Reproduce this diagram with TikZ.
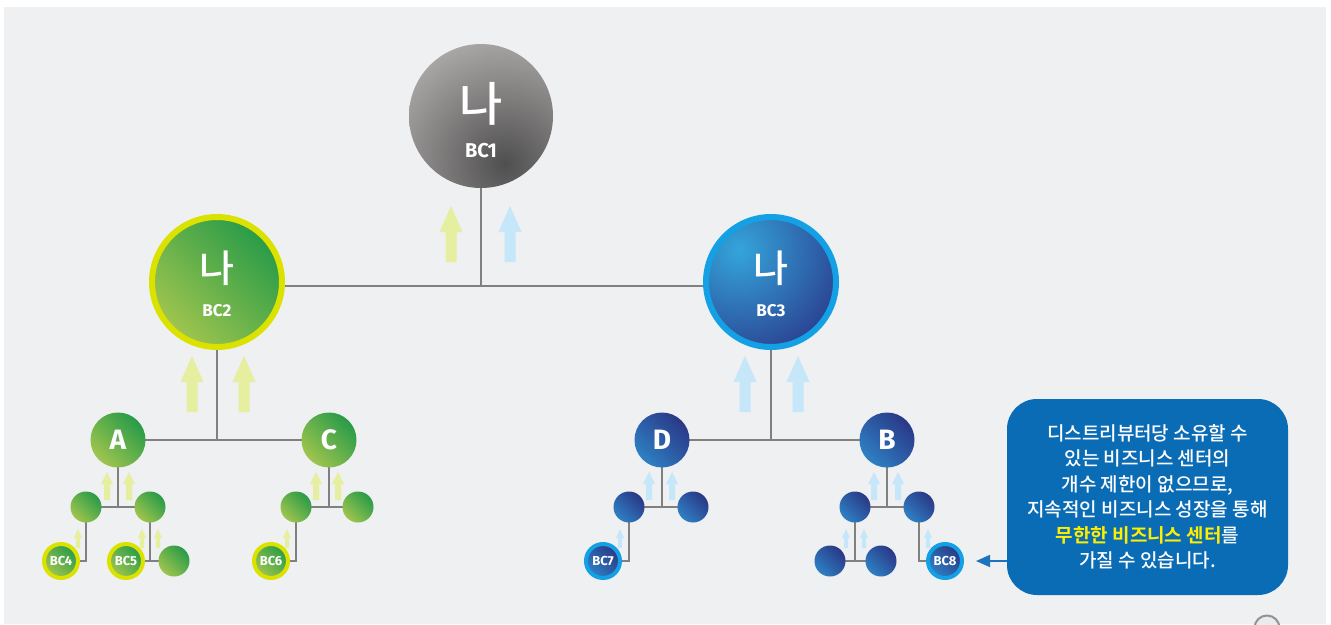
\documentclass[tikz,border=0pt]{standalone}
\usepackage{fontspec}
\setmainfont{Fira Sans}
\newfontfamily\kr{Noto Sans CJK KR}[BoldFont={Noto Sans CJK KR Bold}]
\newfontfamily\krm{Noto Sans CJK KR Medium}[BoldFont={Noto Sans CJK KR Bold}]
\usetikzlibrary{arrows.meta}
\pgfdeclarelayer{back}
\pgfsetlayers{back,main}
\definecolor{bgc}{RGB}{239,240,242}
\definecolor{linec}{RGB}{128,128,128}
\definecolor{gdark}{RGB}{40,155,72}
\definecolor{glight}{RGB}{160,197,78}
\definecolor{bdark}{RGB}{42,56,135}
\definecolor{blight}{RGB}{46,128,195}
\definecolor{bthreelight}{RGB}{52,165,218}
\definecolor{bthreedark}{RGB}{42,58,140}
\definecolor{graylight}{RGB}{175,173,172}
\definecolor{graydark}{RGB}{80,79,79}
\definecolor{ringy}{RGB}{220,226,0}
\definecolor{ringc}{RGB}{20,160,228}
\definecolor{paley}{RGB}{230,238,160}
\definecolor{paleb}{RGB}{198,230,249}
\definecolor{noteblue}{RGB}{11,108,182}
\definecolor{arrowblue}{RGB}{30,115,190}
\definecolor{hly}{RGB}{255,238,0}

% x, ybottom, length, shaft width, head width, head length, colour
\newcommand{\uparrowshape}[7]{%
  \fill[#7] (#1-#4/2,#2) -- (#1-#4/2,#2-#3+#6) -- (#1-#5/2,#2-#3+#6) -- (#1,#2-#3)
    -- (#1+#5/2,#2-#3+#6) -- (#1+#4/2,#2-#3+#6) -- (#1+#4/2,#2) -- cycle;}
\newcommand{\bigarrow}[3]{\uparrowshape{#1}{#2}{56}{11}{23}{26}{#3}}
\newcommand{\midarrow}[3]{\uparrowshape{#1}{#2}{28}{6}{12}{12}{#3}}
\newcommand{\smallarrow}[3]{\uparrowshape{#1}{#2}{19}{4}{8}{9}{#3}}

\begin{document}
\begin{tikzpicture}[x=1pt,y=-1pt,
  conn/.style={draw=linec, line width=1.6pt},
  gshade/.style={circle, inner sep=0pt, top color=gdark, bottom color=glight, shading angle=-45},
  bshade/.style={circle, inner sep=0pt, top color=bdark, bottom color=blight, shading angle=-45},
  gsmall/.style={gshade, minimum size=31pt},
  bsmall/.style={bshade, minimum size=31pt},
  letterfont/.style={text=white, font=\bfseries\fontsize{28}{28}\selectfont},
  gmid/.style={gshade, minimum size=55pt, letterfont},
  bmid/.style={bshade, minimum size=55pt, letterfont},
  smallfont/.style={text=white, font=\bfseries\fontsize{13}{13}\selectfont},
  gring/.style={gshade, minimum size=34pt, draw=ringy, line width=4pt, smallfont},
  bring/.style={bshade, minimum size=34pt, draw=ringc, line width=4pt, smallfont},
  hangul/.style={text=white, font=\krm\fontsize{#1}{#1}\selectfont, inner sep=0pt},
  bclab/.style={text=white, font=\bfseries\fontsize{#1}{#1}\selectfont, inner sep=0pt},
  notebox/.style={fill=noteblue, rounded corners=30pt, minimum width=281pt, minimum height=196pt,
    align=center, text=white, font=\krm\fontsize{19}{25.5}\selectfont, inner sep=0pt}
]
\clip (0,0) rectangle (1331,624);
\begin{pgfonlayer}{back}
  \fill[white] (0,0) rectangle (1331,624);
  \fill[bgc] (4,7) rectangle (1326,624);
\end{pgfonlayer}

% ---- top level
\node[circle, inner sep=0pt, minimum size=144pt,
  path picture={\shade[inner color=graydark, outer color=graylight]
    ([shift={(24pt,-48pt)}]path picture bounding box.center) circle (135pt);}] (bc1) at (481,116) {};
\node[hangul=47] (bc1h) at (481,104) {나};
\node[bclab=20] (bc1l) at (481,151) {BC1};

\node[gshade, minimum size=130pt, draw=ringy, line width=6pt] (bc2) at (217,282) {};
\node[hangul=38] (bc2h) at (217,268) {나};
\node[bclab=17] (bc2l) at (217,311) {BC2};

\node[circle, inner sep=0pt, minimum size=130pt, draw=ringc, line width=6pt,
  path picture={\shade[inner color=bthreelight, outer color=bthreedark]
    ([shift={(-32pt,32pt)}]path picture bounding box.center) circle (120pt);}] (bc3) at (771,282) {};
\node[hangul=38] (bc3h) at (771,268) {나};
\node[bclab=17] (bc3l) at (771,311) {BC3};

% ---- second level
\node[gmid] (A) at (118,440) {A};
\node[gmid] (C) at (329,440) {C};
\node[bmid] (D) at (662,440) {D};
\node[bmid] (B) at (887,440) {B};

% ---- third level
\node[gsmall] (a1) at (86,507) {};
\node[gsmall] (a2) at (150,507) {};
\node[gsmall] (c1) at (296,507) {};
\node[gsmall] (c2) at (358,507) {};
\node[bsmall] (d1) at (629,507) {};
\node[bsmall] (d2) at (693,507) {};
\node[bsmall] (b1) at (855,507) {};
\node[bsmall] (b2) at (919,507) {};

% ---- fourth level
\node[gring] (bc4) at (61,561) {BC4};
\node[gring] (bc5) at (126,561) {BC5};
\node[gsmall] (a2x) at (174,561) {};
\node[gring] (bc6) at (271,561) {BC6};
\node[bring] (bc7) at (603,561) {BC7};
\node[bsmall] (b1a) at (830,561) {};
\node[bsmall] (b1b) at (881,561) {};
\node[bring] (bc8) at (945,561) {BC8};

% ---- connectors (behind the circles)
\begin{pgfonlayer}{back}
  \coordinate (j1) at (481,286);
  \draw[conn] (bc1.center) -- (bc1.center |- j1);
  \draw[conn] (bc2.center |- j1) -- (bc3.center |- j1);
  \draw[conn] (bc2.center) -- (bc2.center |- A.center);
  \draw[conn] (A.center) -- (C.center);
  \draw[conn] (bc3.center) -- (bc3.center |- D.center);
  \draw[conn] (D.center) -- (B.center);
  \draw[conn] (A.center) -- (A.center |- a1.center);
  \draw[conn] (a1.center) -- (a2.center);
  \draw[conn] (C.center) -- (C.center |- c1.center);
  \draw[conn] (c1.center) -- (c2.center);
  \draw[conn] (D.center) -- (D.center |- d1.center);
  \draw[conn] (d1.center) -- (d2.center);
  \draw[conn] (B.center) -- (B.center |- b1.center);
  \draw[conn] (b1.center) -- (b2.center);
  \draw[conn] (a1.center) |- (bc4.center);
  \draw[conn] (a2.center) -- (a2.center |- bc5.center);
  \draw[conn] (bc5.center) -- (a2x.center);
  \draw[conn] (c1.center) |- (bc6.center);
  \draw[conn] (d1.center) |- (bc7.center);
  \draw[conn] (b1.center) -- (b1.center |- b1a.center);
  \draw[conn] (b1a.center) -- (b1b.center);
  \draw[conn] (b2.center) |- (bc8.center);

  % pale upward arrows
  \bigarrow{451}{262}{paley}
  \bigarrow{510}{262}{paleb}
  \bigarrow{192}{412}{paley}
  \bigarrow{244}{412}{paley}
  \bigarrow{745}{412}{paleb}
  \bigarrow{798}{412}{paleb}
  \midarrow{107}{500}{paley}
  \midarrow{129}{500}{paley}
  \midarrow{316}{500}{paley}
  \midarrow{338}{500}{paley}
  \midarrow{649}{500}{paleb}
  \midarrow{672}{500}{paleb}
  \midarrow{874}{500}{paleb}
  \midarrow{898}{500}{paleb}
  \smallarrow{78}{548}{paley}
  \smallarrow{142}{548}{paley}
  \smallarrow{158}{548}{paley}
  \smallarrow{287}{548}{paley}
  \smallarrow{620}{548}{paleb}
  \smallarrow{846}{548}{paleb}
  \smallarrow{864}{548}{paleb}
  \smallarrow{928}{548}{paleb}
\end{pgfonlayer}

% ---- callout
\node[notebox] (note) at (1147.5,497) {디스트리뷰터당 소유할 수\\있는 비즈니스 센터의\\개수 제한이 없으므로,\\지속적인 비즈니스 성장을 통해\\{\bfseries\color{hly}무한한 비즈니스 센터}를\\가질 수 있습니다.};
\draw[arrowblue, line width=1.6pt, -{Triangle[length=14pt,width=12pt]}, shorten >=12pt]
  (note.west |- bc8.east) -- (bc8.east);

% ---- partial icon at the bottom edge
\draw[linec!85, line width=2pt, fill=white!92!black] (1267,628) circle (12.5pt);
\end{tikzpicture}
\end{document}
